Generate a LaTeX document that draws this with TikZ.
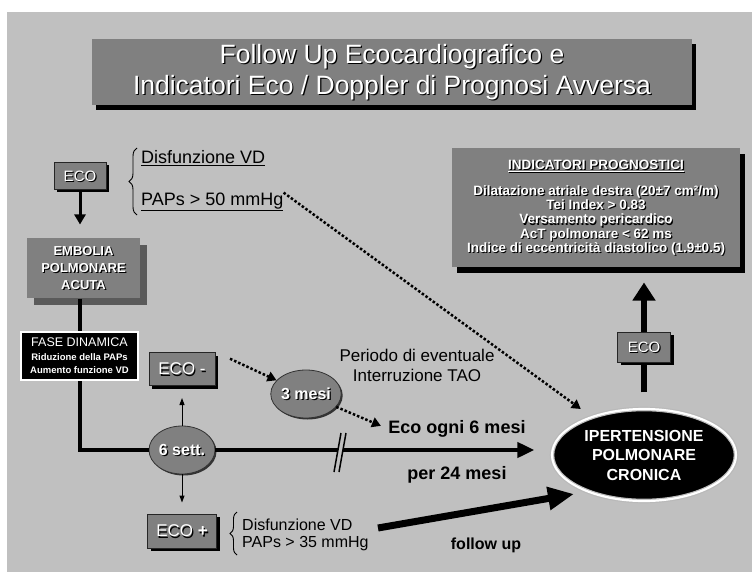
\documentclass[tikz,border=0pt]{standalone}
\usepackage{fontspec}
\setmainfont{Liberation Sans}
\usetikzlibrary{arrows.meta,shapes.geometric,shadows,decorations.pathreplacing}
\definecolor{fondo}{HTML}{C0C0C0}
\definecolor{gris}{HTML}{808080}
\definecolor{grisoscuro}{HTML}{5A5A5A}
\newcommand{\sombra}[1]{\leavevmode\rlap{\kern1.2pt\smash{\raisebox{-1.2pt}{\textcolor{black}{#1}}}}#1}
\newcommand{\fs}[2]{\fontsize{#1}{#2}\selectfont}
\newcommand{\apretado}{\lineskiplimit=-6pt\relax}

\begin{document}
\begin{tikzpicture}[x=1pt, y=-1pt, every node/.style={inner sep=0pt},
  sombrada/.style n args={3}{general shadow={fill=#1, shadow xshift=#2, shadow yshift=-#3}},
  caja/.style={rectangle, fill=gris, draw=black!85, line width=1pt, text=white},
  ovalo/.style={ellipse, fill=gris, draw=black!80, line width=0.8pt, text=white,
    minimum width=66pt, minimum height=48pt, font=\bfseries\fs{16}{18}},
  flujo/.style={line width=4pt},
  fina/.style={line width=1pt, -{Triangle[width=5pt,length=7pt]}},
  punteada/.style={line width=2.5pt, dash pattern=on 2.5pt off 2pt, -{Triangle[width=10pt,length=9pt]}},
  gruesa/.style={line width=6.5pt},
  llave/.style={line width=0.9pt, decorate}]

% --- Fondo ---
\fill[white] (0,0) rectangle (752,572);
\fill[fondo] (7,12) rectangle (752,572);
\useasboundingbox (0,0) rectangle (752,572);

% --- Titulo ---
\node[caja, draw=none, sombrada={black}{4pt}{5pt}, minimum width=600pt, minimum height=66pt,
  align=center, font=\fs{26.5}{31}] (titulo) at (392,72)
  {\sombra{Follow Up Ecocardiografico e}\\\sombra{Indicatori Eco / Doppler di Prognosi Avversa}};

% --- Columna izquierda ---
\node[caja, sombrada={black}{3pt}{3pt}, minimum width=52pt, minimum height=27pt,
  font=\fs{15}{17}] (ecoA) at (80,176) {\sombra{ECO}};
\draw[llave, decoration={brace, amplitude=8pt}] (137,215) -- (137,148);
\node[anchor=west, font=\fs{18}{20}] (disA) at (141,158) {\underline{Disfunzione VD}};
\node[anchor=west, font=\fs{18}{20}] (papsA) at (141,202) {\underline{PAPs > 50 mmHg}};

\node[caja, draw=none, sombrada={grisoscuro}{7pt}{7pt}, minimum width=113pt, minimum height=60pt,
  align=center, font=\bfseries\fs{13}{17}] (embolia) at (83.5,268)
  {\sombra{EMBOLIA}\\\sombra{POLMONARE}\\\sombra{ACUTA}};

\node[rectangle, fill=black, draw=white, line width=2pt, minimum width=117pt, minimum height=48pt,
  text=white, align=center, font=\bfseries\fs{9.5}{13.5}] (fase) at (79.5,356)
  {{\mdseries\fs{12.5}{13.5}FASE DINAMICA}\\Riduzione della PAPs\\Aumento funzione VD};

% --- Controles a 6 settimane ---
\node[ovalo, sombrada={black!80}{1.5pt}{1.5pt}] (sei) at (182,450) {\sombra{6 sett.}};
\node[caja, sombrada={black}{3pt}{3pt}, minimum width=66pt, minimum height=33pt,
  font=\fs{17}{19}] (ecoMeno) at (182,369) {\sombra{ECO -}};
\node[caja, sombrada={black}{3pt}{3pt}, minimum width=69pt, minimum height=34pt,
  font=\fs{17}{19}] (ecoPiu) at (182,531) {\sombra{ECO \textbf{+}}};
\draw[llave, decoration={brace, amplitude=7pt}] (237,555) -- (237,512);
\node[anchor=west, font=\fs{16}{18}] (disB) at (242,525) {Disfunzione VD};
\node[anchor=west, font=\fs{16}{18}] (papsB) at (242,544) {PAPs > 35 mmHg};

\node[ovalo, sombrada={black!80}{1.5pt}{1.5pt}, minimum width=67pt] (tre) at (306,394) {\sombra{3 mesi}};

% --- Textos centrales ---
\node[align=center, font=\fs{17}{20}] (periodo) at (417,365) {Periodo di eventuale\\Interruzione TAO};
\node[font=\bfseries\fs{18}{20}] (ecoOgni) at (457,429) {Eco ogni 6 mesi};
\node[font=\bfseries\fs{18}{20}] (per24) at (457,475) {per 24 mesi};
\node[font=\bfseries\fs{16}{18}] (follow) at (486,545) {follow up};

% --- Lado derecho ---
\node[ellipse, fill=black, draw=gray!55, double=white, double distance=2.2pt, line width=1.2pt,
  minimum width=184pt, minimum height=92pt, text=white, align=center,
  font=\bfseries\fs{16}{19.5}] (iper) at (644,455) {IPERTENSIONE\\POLMONARE\\CRONICA};
\node[caja, sombrada={black}{3pt}{3pt}, minimum width=53pt, minimum height=30pt,
  font=\fs{15}{17}] (ecoC) at (644,347) {\sombra{ECO}};
\node[caja, draw=none, sombrada={black}{5pt}{6pt}, minimum width=288pt, minimum height=119pt,
  align=center, font=\bfseries\fs{13.5}{14.2}\apretado] (indic) at (596,207.5)
  {\sombra{\underline{INDICATORI PROGNOSTICI}}\\[12pt]
   \sombra{Dilatazione atriale destra (20±7 cm²/m)}\\
   \sombra{Tei Index > 0.83}\\
   \sombra{Versamento pericardico}\\
   \sombra{AcT polmonare < 62 ms}\\
   \sombra{Indice di eccentricità diastolico (1.9±0.5)}};

% --- Conectores ---
\draw[line width=3pt, -{Triangle[width=11pt,length=10pt]}, shorten >=13pt]
  (ecoA.south) -- (ecoA.south |- embolia.north);
\draw[flujo] (fase.north |- embolia.south) -- (fase.north);
\draw[flujo] (fase.south) |- (sei.west);
\draw[flujo, -{Triangle[width=15pt,length=17pt]}, shorten >=17pt] (sei.east) -- (sei.east -| iper.west);
\draw[fina, shorten >=12pt] (sei) -- (ecoMeno);
\draw[fina, shorten >=11pt] (sei) -- (ecoPiu);
\draw[punteada, shorten <=16pt] (ecoMeno.north east) -- (tre);
\draw[punteada, shorten >=8pt] (tre) -- (ecoOgni.west);
\draw[punteada, shorten >=13pt] (papsA.north east) -- (iper);
\draw[gruesa, shorten <=16pt] (iper.north) -- (ecoC.south);
\draw[gruesa, -{Triangle[width=22pt,length=18pt]}, shorten >=15pt] (ecoC.north) -- (ecoC.north |- indic.south);

% --- Follow up ---
\coordinate (fuIni) at (378,528);
\coordinate (fuFin) at (574,494);
\draw[line width=7pt, -{Triangle[width=22pt,length=26pt]}] (fuIni) -- (fuFin);

% --- Interruzione // ---
\coordinate (r1) at (341,433);
\coordinate (r2) at (346,433);
\coordinate (r3) at (339,472);
\coordinate (r4) at (334,472);
\fill[fondo] (r1) -- (r2) -- (r3) -- (r4) -- cycle;
\draw[line width=1.5pt] (r1) -- (r4) (r2) -- (r3);

\end{tikzpicture}
\end{document}
